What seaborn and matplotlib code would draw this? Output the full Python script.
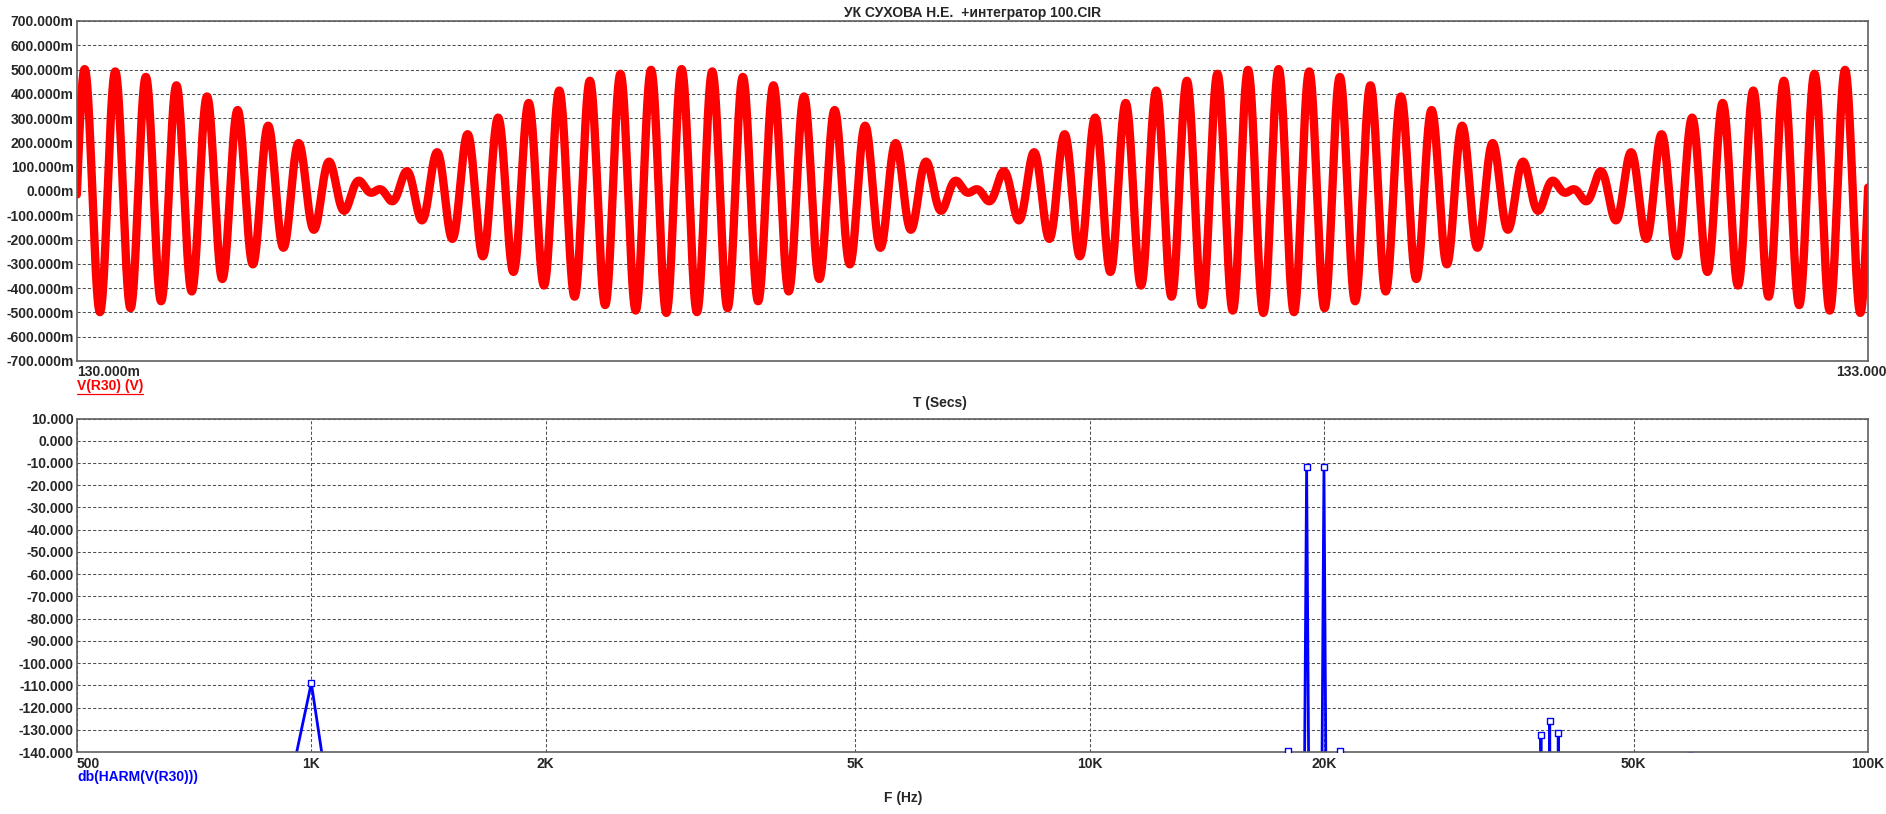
import numpy as np
import pandas as pd
import matplotlib
matplotlib.use("Agg")
import matplotlib.pyplot as plt
import seaborn as sns
from matplotlib.lines import Line2D
from matplotlib.transforms import IdentityTransform

# ---------------- data ----------------
title = "УК СУХОВА Н.Е.  +интегратор 100.CIR"
time_window_s = [0.130, 0.133]
time_tick_labels = ["130.000m", "133.000m"]
volt_ticks_mv = list(range(-700, 701, 100))

# spectrum (HARM) components, frequency in Hz and level in dB
harm_freq_hz = [1000, 18000, 19000, 20000, 21000, 38000, 39000, 40000, 59000]
harm_db = [-109.0, -139.5, -12.0, -12.0, -139.5, -132.2, -125.9, -131.3, -141.6]
harm_resolution_hz = 1000.0 / 3.0
harm_floor_db = -400.0

# the two tones that make up V(R30) (the -12 dB lines of the spectrum)
tone_freq_hz = [19000, 20000]
tone_db = [-12.0, -12.0]

freq_ticks = [500, 1000, 2000, 5000, 10000, 20000, 50000, 100000]
freq_tick_labels = ["500", "1K", "2K", "5K", "10K", "20K", "50K", "100K"]
db_ticks = list(range(-140, 11, 10))

# ---------------- derived series ----------------
t = np.linspace(time_window_s[0] - 2e-5, time_window_s[1] + 2e-5, 8001)
amps = 10 ** (np.array(tone_db) / 20.0)
v = np.zeros_like(t)
for f, a in zip(tone_freq_hz, amps):
    v += a * np.sin(2 * np.pi * f * t)
wave = pd.DataFrame({"t": t, "v": v})

pts = {}
for f, d in zip(harm_freq_hz, harm_db):
    pts.setdefault(f - harm_resolution_hz, harm_floor_db)
    pts.setdefault(f + harm_resolution_hz, harm_floor_db)
for f, d in zip(harm_freq_hz, harm_db):
    pts[f] = d
spec_line = pd.DataFrame(sorted(pts.items()), columns=["f", "db"])
spec_pts = pd.DataFrame({"f": harm_freq_hz, "db": harm_db})

# ---------------- style ----------------
sns.set_theme(style="white")
plt.rcParams["font.family"] = ["Liberation Sans", "DejaVu Sans"]
plt.rcParams["font.weight"] = "bold"
plt.rcParams["font.size"] = 10

W, H = 1886, 814
fig = plt.figure(figsize=(W / 100, H / 100), dpi=100)
fig.patch.set_facecolor("white")


def rect(l, t_, r, b):
    return [l / W, 1 - b / H, (r - l) / W, (b - t_) / H]


ax1 = fig.add_axes(rect(77, 21, 1868, 361))
ax2 = fig.add_axes(rect(77, 418.5, 1868, 752))

grid_kw = dict(color="#505050", linestyle=(0, (3, 2)), linewidth=0.75)
spine_color = "#606060"

# ---------------- top: time domain ----------------
sns.lineplot(data=wave, x="t", y="v", ax=ax1, color="#ff0000", linewidth=6.0,
             estimator=None, sort=False)
ax1.set_xlim(*time_window_s)
ax1.set_ylim(-0.7, 0.7)
ax1.set_yticks(np.array(volt_ticks_mv) / 1000.0)
ax1.set_yticklabels([f"{mv:.3f}m" for mv in volt_ticks_mv])
ax1.set_xticks(time_window_s)
ax1.set_xticklabels(time_tick_labels)
ax1.get_xticklabels()[0].set_ha("left")
ax1.tick_params(axis="both", length=0, labelsize=10)
ax1.tick_params(axis="x", pad=3)
ax1.tick_params(axis="y", pad=2.5)
ax1.yaxis.grid(True, **grid_kw)
ax1.xaxis.grid(False)
ax1.set_axisbelow(True)
ax1.set_xlabel("")
ax1.set_ylabel("")

# ---------------- bottom: spectrum ----------------
ax2.set_xscale("log")
sns.lineplot(data=spec_line, x="f", y="db", ax=ax2, color="#0000ff", linewidth=2.0,
             estimator=None, sort=False)
sns.scatterplot(data=spec_pts, x="f", y="db", ax=ax2, marker="s", s=24,
                color="white", edgecolor="#0000ff", linewidth=1.0, zorder=4)
ax2.set_xlim(freq_ticks[0], freq_ticks[-1])
ax2.set_ylim(db_ticks[0], db_ticks[-1])
ax2.set_xticks(freq_ticks)
ax2.set_xticklabels(freq_tick_labels)
ax2.xaxis.set_minor_locator(matplotlib.ticker.NullLocator())
ax2.get_xticklabels()[0].set_ha("left")
ax2.set_yticks(db_ticks)
ax2.set_yticklabels([f"{d:.3f}" for d in db_ticks])
ax2.tick_params(axis="both", which="both", length=0, labelsize=10)
ax2.tick_params(axis="x", pad=3.6)
ax2.tick_params(axis="y", pad=2.5)
ax2.grid(True, which="major", **grid_kw)
ax2.set_axisbelow(True)
ax2.set_xlabel("")
ax2.set_ylabel("")

for ax in (ax1, ax2):
    for s in ax.spines.values():
        s.set_color(spine_color)
        s.set_linewidth(1.2)
        s.set_visible(True)
    for lab in ax.get_xticklabels() + ax.get_yticklabels():
        lab.set_fontweight("bold")

# ---------------- texts ----------------
fig.text(972.5 / W, 1 - 13 / H, title, ha="center", va="center",
         fontsize=10, fontweight="bold")
vlab = fig.text(77 / W, 1 - 386.5 / H, "V(R30) (V)", ha="left", va="center",
                fontsize=10, fontweight="bold", color="#ff0000")
fig.text(940 / W, 1 - 403 / H, "T (Secs)", ha="center", va="center",
         fontsize=10, fontweight="bold")
fig.text(77 / W, 1 - 777 / H, "db(HARM(V(R30)))", ha="left", va="center",
         fontsize=10, fontweight="bold", color="#0000ff")
fig.text(903 / W, 1 - 798 / H, "F (Hz)", ha="center", va="center",
         fontsize=10, fontweight="bold")

fig.canvas.draw()
bb = vlab.get_window_extent()
fig.add_artist(Line2D([bb.x0, bb.x1], [bb.y0 - 0.5, bb.y0 - 0.5],
                      transform=IdentityTransform(), color="#ff0000", linewidth=0.9))

fig.savefig("out.png", dpi=100, facecolor="white")
